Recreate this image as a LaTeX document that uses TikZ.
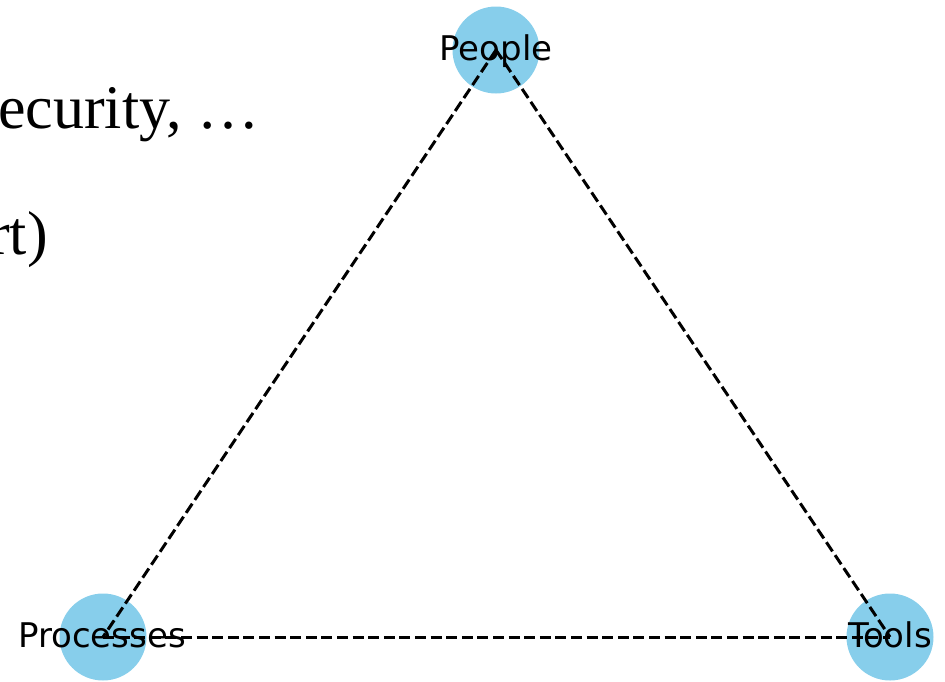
\documentclass[tikz,border=0pt]{standalone}
\usepackage{fontspec}
\setmainfont{Liberation Serif}
\newfontfamily\lblfont{DejaVu Sans}
\usetikzlibrary{positioning}
\definecolor{nodeblue}{HTML}{87CEEB}

\begin{document}
\begin{tikzpicture}[
  x=1pt, y=-1pt,
  vtx/.style = {circle, fill=nodeblue, minimum size=87pt, inner sep=0pt},
  lbl/.style = {font=\lblfont\fontsize{34}{40}\selectfont, inner sep=0pt, anchor=base},
  txt/.style = {font=\fontsize{62}{72}\selectfont, inner sep=0pt, anchor=base west},
  edg/.style = {line width=3pt, dash pattern=on 11pt off 4.6pt}
]
\useasboundingbox (0,0) rectangle (945,681);
\clip (0,0) rectangle (945,681);

% ---------- slide text behind the graph ------------------------------
\node[txt] (line1) at (-2,128) {ecurity, \ldots};
\node[txt] (line2) at (-11,254) {rt)};

% ---------- vertices --------------------------------------------------
\node[vtx] (people)    at (496,50)  {};
\node[vtx] (processes) at (103,637) {};
\node[vtx] (tools)     at (890,637) {};

% ---------- edges -----------------------------------------------------
\foreach \a/\b in {people/processes, people/tools, processes/tools}{
  \draw[edg] (\a.center) -- (\b.center);}

% ---------- labels ----------------------------------------------------
\node[lbl] (peopleL)    at (496,60)  {People};
\node[lbl] (processesL) at (102,647) {Processes};
\node[lbl] (toolsL)     at (890,647) {Tools};

\end{tikzpicture}
\end{document}
